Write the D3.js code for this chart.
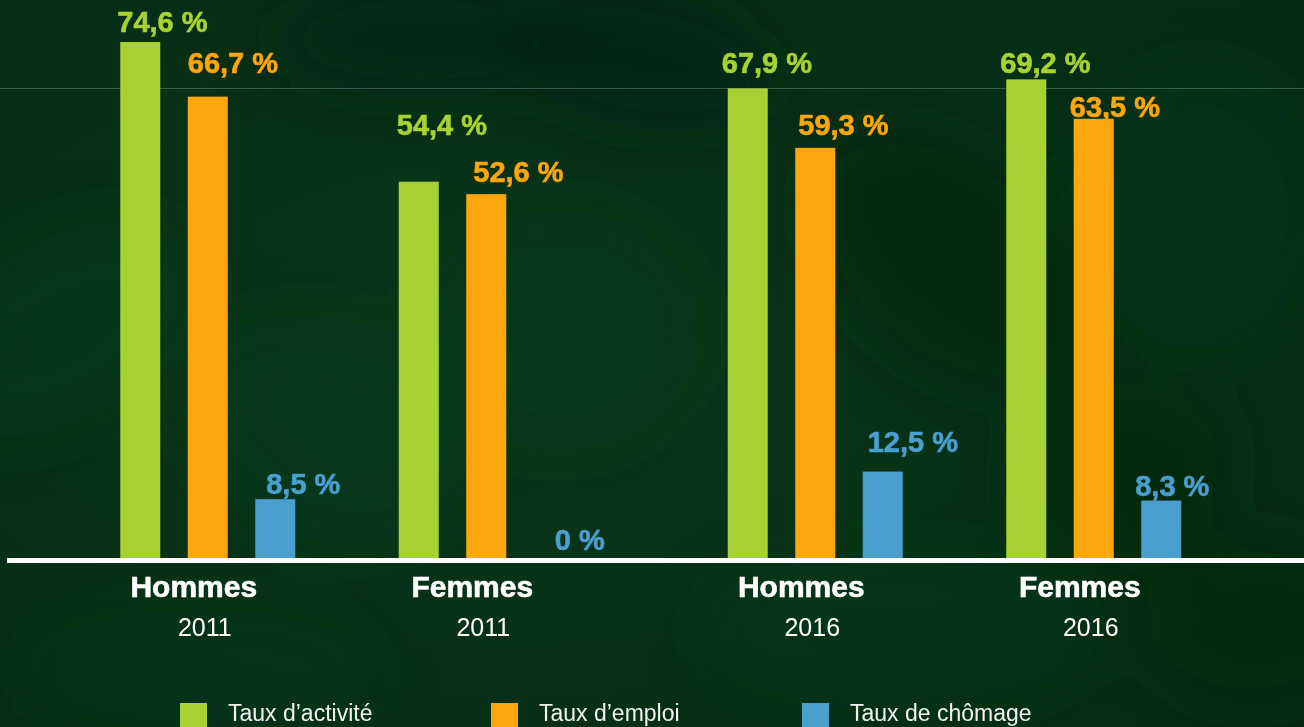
<!DOCTYPE html>
<html lang="fr">
<head>
<meta charset="utf-8">
<script src="https://cdn.jsdelivr.net/npm/d3@7.9.0/dist/d3.min.js"></script>
<style>
  html, body { margin: 0; padding: 0; background: #08301a; overflow: hidden; }
  svg { display: block; font-family: Arial, "Liberation Sans", sans-serif; }
</style>
</head>
<body>
<div id="chart"></div>
<script>
// data
const years = ['2011', '2016'];
const sexes = ['Hommes', 'Femmes'];
const series = ['Taux d’activité', 'Taux d’emploi', 'Taux de chômage'];

// order: Hommes 2011, Femmes 2011, Hommes 2016, Femmes 2016
const activite = [74.6, 54.4, 67.9, 69.2];
const emploi = [66.7, 52.6, 59.3, 63.5];
const chomage = [8.5, 0, 12.5, 8.3];

const colors = ['#a6d234', '#fea60c', '#4b9fcf'];

// labels were placed by hand on the slide, so nudge them a bit (px)
const labelLift = [[10, 24, 5], [47, 12, 8], [15, 13, 20], [6, 2, 5]];
const labelShift = [[-3, 0, 11], [-2, 7, 21], [-6, 3, 5], [-6, -4, -6]];

const width = 1304;
const height = 727;
const baseY = 558;

const rows = years.flatMap((year, yi) => sexes.map((sex, si) => {
  const i = yi * sexes.length + si;
  return { year, sex, i, values: [activite[i], emploi[i], chomage[i]] };
}));

const svg = d3.select('#chart')
  .append('svg')
  .attr('width', width)
  .attr('height', height)
  .attr('viewBox', `0 0 ${width} ${height}`);

// ---- background (dark leafy green) ----
const defs = svg.append('defs');
const bg = defs.append('radialGradient').attr('id', 'bg')
  .attr('cx', '40%').attr('cy', '50%').attr('r', '80%');
bg.append('stop').attr('offset', '0%').attr('stop-color', '#0b381b');
bg.append('stop').attr('offset', '100%').attr('stop-color', '#052a14');
defs.append('filter').attr('id', 'blur')
  .attr('x', '-50%').attr('y', '-50%').attr('width', '200%').attr('height', '200%')
  .append('feGaussianBlur').attr('stdDeviation', 30);

svg.append('rect').attr('width', width).attr('height', height).attr('fill', 'url(#bg)');

const leaves = svg.append('g').attr('filter', 'url(#blur)');
[
  [60, 330, 150, 90, -30, '#0f4220', 0.35], [330, 430, 150, 110, 20, '#0f4220', 0.3],
  [560, 330, 140, 120, 0, '#0e401f', 0.35], [640, 60, 140, 70, 10, '#01200c', 0.6],
  [950, 260, 170, 110, 40, '#01200c', 0.5], [1200, 210, 120, 140, 0, '#0f4220', 0.3],
  [900, 630, 200, 80, 0, '#0e401f', 0.3], [200, 670, 180, 60, 0, '#0e401f', 0.3],
  [1120, 470, 120, 100, -20, '#01200c', 0.45], [420, 40, 150, 60, 0, '#01200c', 0.55],
  [1250, 620, 120, 90, 0, '#01200c', 0.4]
].forEach(([cx, cy, rx, ry, rot, c, o]) => {
  leaves.append('ellipse')
    .attr('cx', cx).attr('cy', cy).attr('rx', rx).attr('ry', ry)
    .attr('transform', `rotate(${rot},${cx},${cy})`)
    .attr('fill', c).attr('opacity', o);
});

// faint line from the slide background
svg.append('line')
  .attr('x1', 0).attr('x2', width).attr('y1', 88.5).attr('y2', 88.5)
  .attr('stroke', '#ffffff').attr('stroke-opacity', 0.22).attr('stroke-width', 1);

// ---- scales ----
const xYear = d3.scaleBand().domain(years).range([43.25, 1258.25]);
const xSex = d3.scaleBand().domain(sexes).range([25.25, 582.25]);
const xSeries = d3.scaleBand().domain(series)
  .range([-101.25, 101.25]).paddingInner(0.4074).paddingOuter(0.2037);

const groupCenter = (d) => xYear(d.year) + xSex(d.sex) + xSex.bandwidth() / 2;

const y = d3.scaleLinear()
  .domain([0, d3.max(activite)])
  .range([baseY, 42]);

const fr = d3.formatLocale({ decimal: ',', thousands: ' ', grouping: [3], currency: ['', ' €'] });
const fmt = fr.format('.1~f');

// ---- bars ----
const groups = svg.append('g').selectAll('g')
  .data(rows)
  .join('g')
  .attr('transform', (d) => `translate(${groupCenter(d)},0)`);

groups.selectAll('rect')
  .data((d) => d.values.map((v, j) => ({ v, j, i: d.i })))
  .join('rect')
  .attr('x', (d) => xSeries(series[d.j]))
  .attr('y', (d) => y(d.v))
  .attr('width', xSeries.bandwidth())
  .attr('height', (d) => baseY - y(d.v))
  .attr('fill', (d) => colors[d.j]);

groups.selectAll('text.val')
  .data((d) => d.values.map((v, j) => ({ v, j, i: d.i })))
  .join('text')
  .attr('class', 'val')
  .attr('x', (d) => xSeries(series[d.j]) + labelShift[d.i][d.j])
  .attr('y', (d) => y(d.v) - labelLift[d.i][d.j])
  .attr('fill', (d) => colors[d.j])
  .attr('stroke', (d) => colors[d.j])
  .attr('stroke-width', 0.6)
  .style('font-size', '29px')
  .style('font-weight', 'bold')
  .text((d) => fmt(d.v) + ' %');

// ---- axis line ----
svg.append('line')
  .attr('x1', 7).attr('x2', width)
  .attr('y1', baseY + 2.5).attr('y2', baseY + 2.5)
  .attr('stroke', '#ffffff').attr('stroke-width', 5);

// category labels
groups.append('text')
  .attr('x', -14)
  .attr('y', 597)
  .attr('text-anchor', 'middle')
  .attr('fill', '#ffffff')
  .attr('stroke', '#ffffff')
  .attr('stroke-width', 0.6)
  .style('font-size', '30px')
  .style('font-weight', 'bold')
  .text((d) => d.sex);

groups.append('text')
  .attr('x', -3)
  .attr('y', 636)
  .attr('text-anchor', 'middle')
  .attr('fill', '#ffffff')
  .style('font-size', '25px')
  .text((d) => d.year);

// ---- legend ----
const legend = svg.append('g').selectAll('g')
  .data(series)
  .join('g')
  .attr('transform', (d, i) => `translate(${180 + i * 311},703)`);

legend.append('rect')
  .attr('width', 27).attr('height', 27)
  .attr('fill', (d, i) => colors[i]);

legend.append('text')
  .attr('x', 48)
  .attr('y', 18)
  .attr('fill', '#f2f2f2')
  .style('font-size', '23px')
  .text((d) => d);
</script>
</body>
</html>
